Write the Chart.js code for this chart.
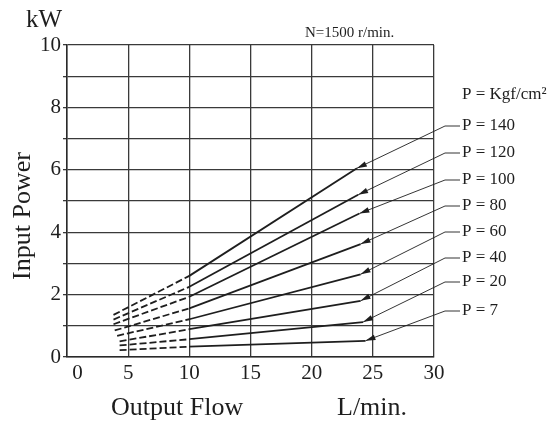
<!DOCTYPE html>
<html>
<head>
<meta charset="utf-8">
<script src="https://cdn.jsdelivr.net/npm/chart.js@4/dist/chart.umd.min.js"></script>
<style>
    html, body { margin: 0; padding: 0; background: #fff; }
    #wrap { width: 549px; height: 425px; position: relative; }
</style>
</head>
<body>
<div id="wrap"><canvas id="myChart"></canvas></div>
<script>
// pressure curves
const pressureLabels = ['P = 140', 'P = 120', 'P = 100', 'P = 80', 'P = 60', 'P = 40', 'P = 20', 'P = 7'];
const startFlow  = [3.8, 3.8, 3.8, 3.9, 4.1, 4.3, 4.3, 4.3];
const startPower = [1.35, 1.2, 1.05, 0.85, 0.68, 0.5, 0.37, 0.22];
const midFlow    = [10, 10, 10, 10, 10, 10, 10, 10];
const midPower   = [2.6, 2.25, 1.93, 1.56, 1.21, 0.89, 0.57, 0.33];
const endFlow    = [23.7, 23.8, 23.9, 24.0, 24.0, 24.0, 24.2, 24.4];
const endPower   = [6.05, 5.2, 4.6, 3.62, 2.65, 1.8, 1.12, 0.52];
const xTicks = [0, 5, 10, 15, 20, 25, 30];
const yTicks = [0, 2, 4, 6, 8, 10];

const labelY = [126, 153, 180, 206, 232, 258, 282, 311];
const serif = '"Liberation Serif", "DejaVu Serif", serif';
const ink = '#1e1e1e';

const datasets = pressureLabels.map((name, i) => ({
    label: name,
    data: [
        { x: startFlow[i], y: startPower[i] },
        { x: midFlow[i], y: midPower[i] },
        { x: endFlow[i], y: endPower[i] }
    ],
    borderColor: ink,
    borderWidth: 1.8,
    pointRadius: 0,
    tension: 0,
    segment: {
        borderDash: c => c.p1.parsed.x <= 10 ? [7, 3] : undefined
    }
}));

const annotations = {
    id: 'annotations',
    afterDatasetsDraw(chart) {
        const ctx = chart.ctx;
        const xs = chart.scales.x, ys = chart.scales.y;
        ctx.save();
        ctx.fillStyle = ink;
        ctx.strokeStyle = ink;

        // leader lines with arrows
        pressureLabels.forEach((name, i) => {
            const tx = xs.getPixelForValue(endFlow[i]);
            const ty = ys.getPixelForValue(endPower[i]);
            const cx = 445, cy = labelY[i];
            ctx.lineWidth = 0.9;
            ctx.beginPath();
            ctx.moveTo(460, cy);
            ctx.lineTo(cx, cy);
            ctx.lineTo(tx, ty);
            ctx.stroke();
            const a = Math.atan2(ty - cy, tx - cx);
            const len = 10, w = 2.8;
            ctx.beginPath();
            ctx.moveTo(tx, ty);
            ctx.lineTo(tx - len * Math.cos(a) + w * Math.sin(a), ty - len * Math.sin(a) - w * Math.cos(a));
            ctx.lineTo(tx - len * Math.cos(a) - w * Math.sin(a), ty - len * Math.sin(a) + w * Math.cos(a));
            ctx.closePath();
            ctx.fill();
            ctx.font = '17px ' + serif;
            ctx.textAlign = 'left';
            ctx.textBaseline = 'middle';
            ctx.fillText(name, 462, cy);
        });

        ctx.font = '17px ' + serif;
        ctx.textAlign = 'left';
        ctx.textBaseline = 'middle';
        ctx.fillText('P = Kgf/cm\u00B2', 462, 95);

        ctx.font = '15px ' + serif;
        ctx.textBaseline = 'alphabetic';
        ctx.fillText('N=1500 r/min.', 305, 37);

        ctx.font = '25px ' + serif;
        ctx.fillText('kW', 26, 27);

        ctx.font = '26px ' + serif;
        ctx.textBaseline = 'middle';
        ctx.fillText('Output Flow', 111, 408);
        ctx.fillText('L/min.', 337, 408);

        ctx.translate(23, 216);
        ctx.rotate(-Math.PI / 2);
        ctx.textAlign = 'center';
        ctx.fillText('Input Power', 0, 0);
        ctx.restore();
    }
};

new Chart(document.getElementById('myChart'), {
    type: 'line',
    data: { datasets: datasets },
    options: {
        responsive: true,
        maintainAspectRatio: false,
        animation: false,
        layout: { padding: { left: 0, top: 45, right: 115, bottom: 38 } },
        plugins: { legend: { display: false }, tooltip: { enabled: false } },
        scales: {
            x: {
                type: 'linear',
                min: 0,
                max: 30,
                afterBuildTicks: s => { s.ticks = xTicks.map(v => ({ value: v })); },
                afterFit: s => { s.height = 30; },
                grid: { color: '#3a3a3a', lineWidth: 1.3, drawTicks: false },
                border: { color: '#2a2a2a', width: 1.5 },
                ticks: {
                    color: ink,
                    font: { family: serif, size: 21 },
                    padding: 4,
                    maxRotation: 0,
                    // the reference sets its "0" a little right of the corner
                    callback: v => v === 0 ? '\u20030' : v
                }
            },
            y: {
                min: 0,
                max: 10,
                ticks: {
                    stepSize: 1,
                    color: ink,
                    font: { family: serif, size: 21 },
                    padding: 2,
                    callback: v => yTicks.includes(v) ? v : ''
                },
                afterFit: s => { s.width = 67; },
                grid: { color: '#3a3a3a', lineWidth: 1.3, tickLength: 4 },
                border: { color: '#2a2a2a', width: 1.5 }
            }
        }
    },
    plugins: [annotations]
});
</script>
</body>
</html>
